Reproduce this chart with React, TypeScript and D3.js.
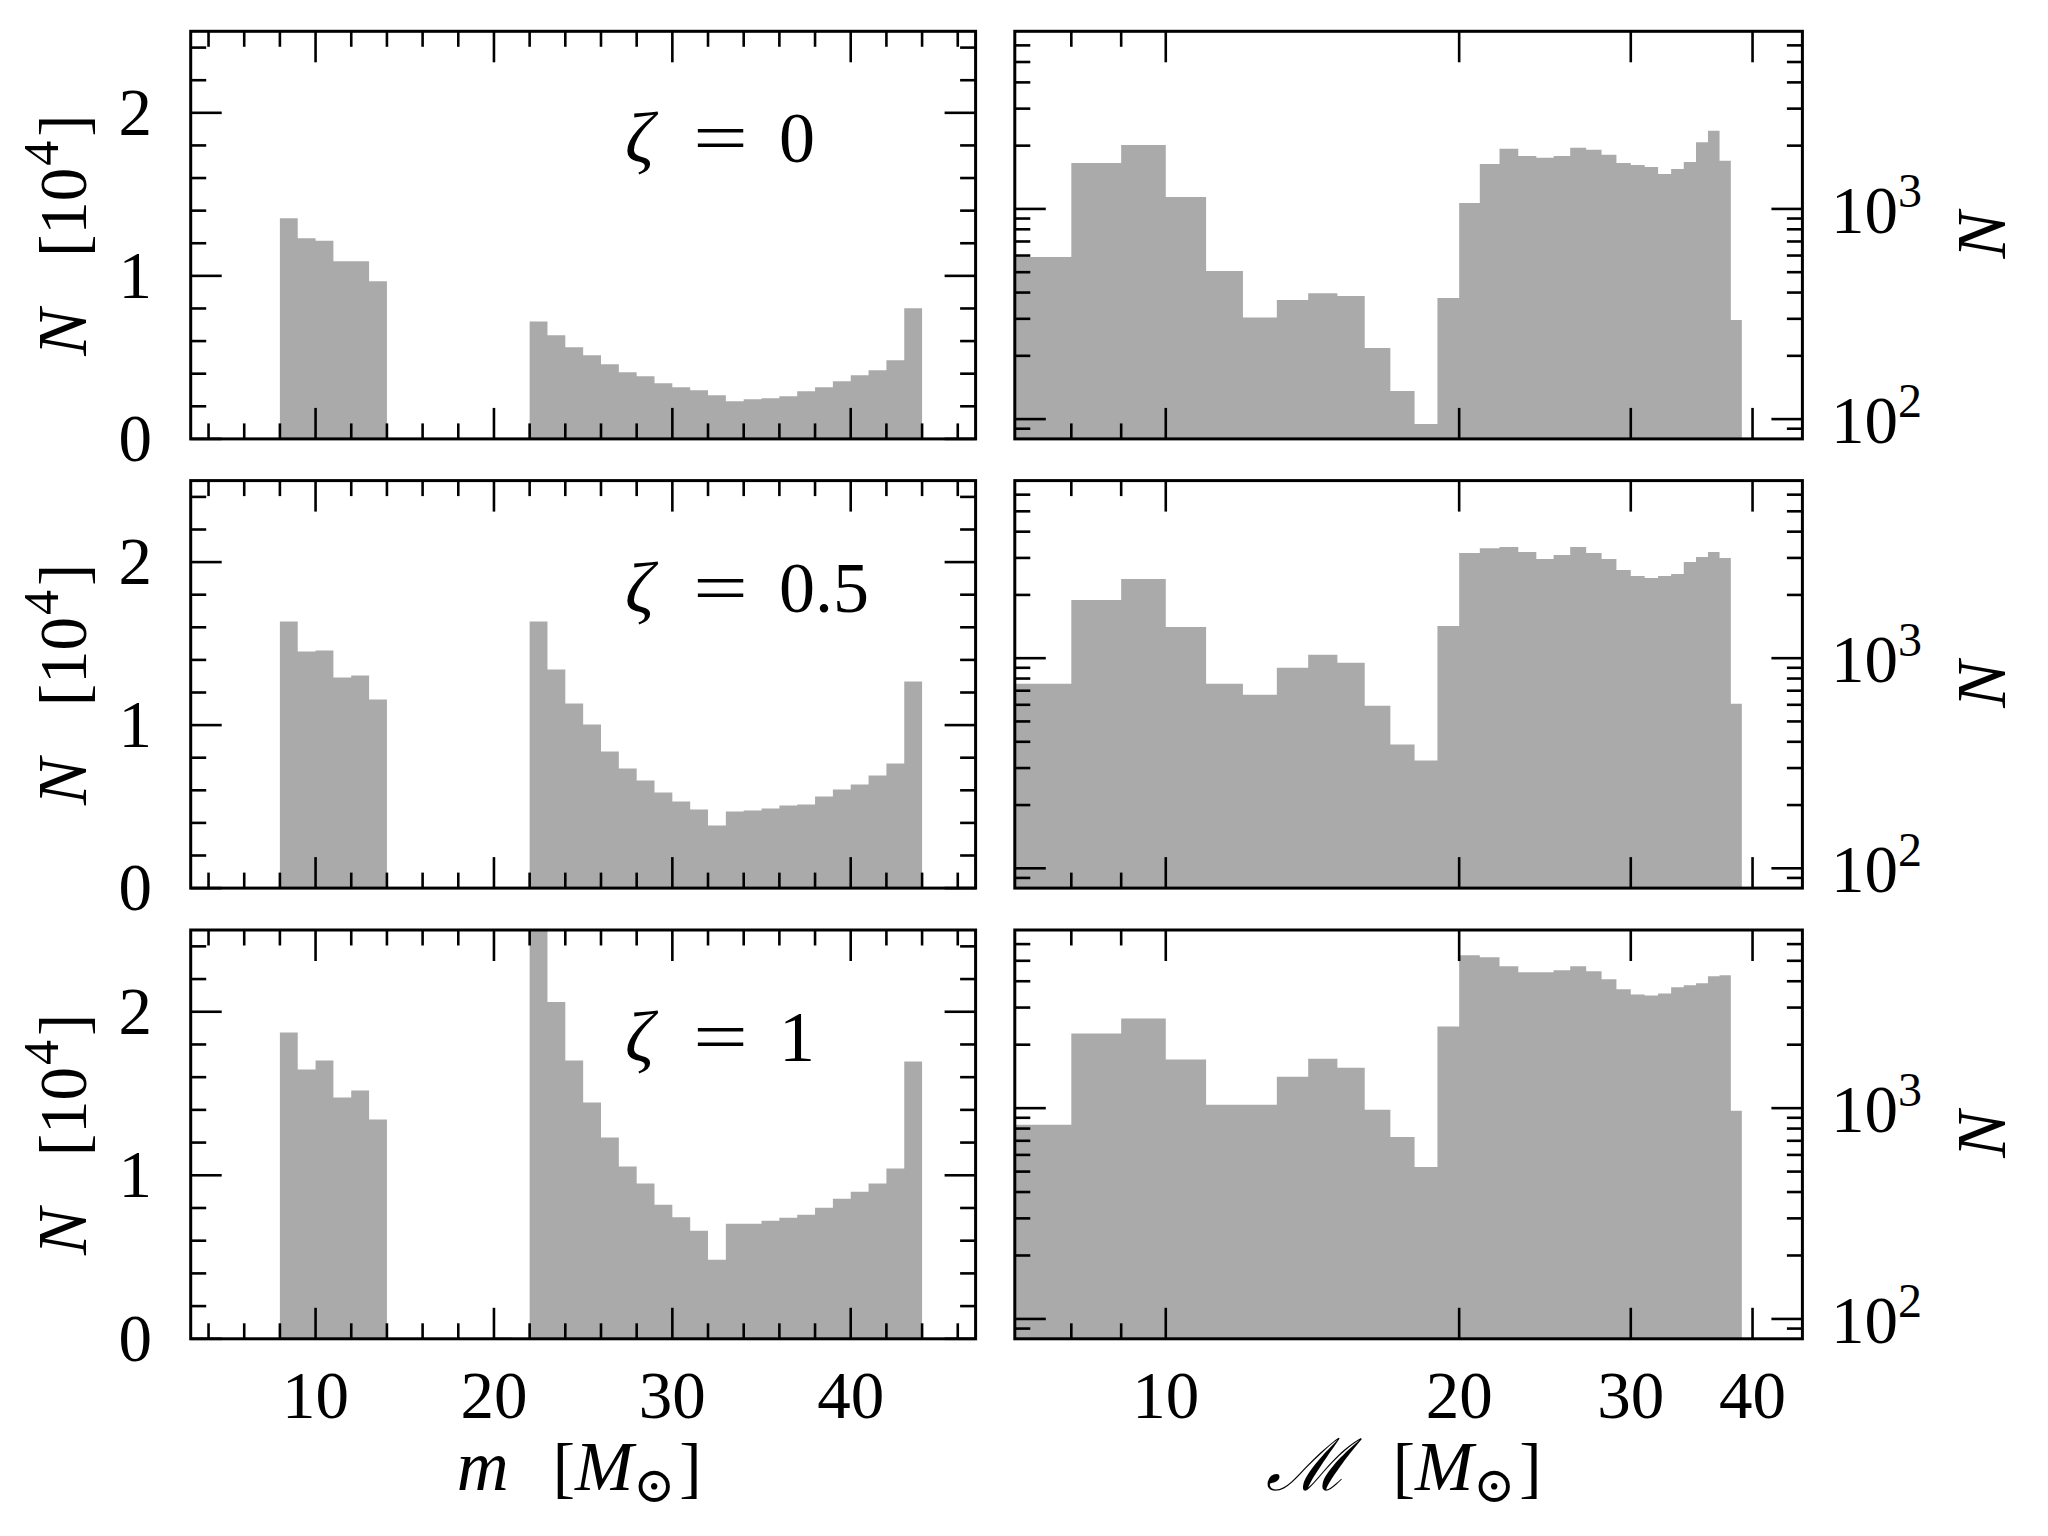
import React from 'react';
import * as d3 from 'd3';

const W = 2048;
const H = 1536;
const FONT = "Liberation Serif, Times New Roman, DejaVu Serif, serif";
const SYM = "DejaVu Serif, DejaVu Sans, serif";
const BAR = '#aaaaaa';

// ---------- data ----------
const zetaValues = ['0', '0.5', '1'];

// component mass m [M_sun], bins of width 1 (edges)
const massEdges = [4, 5, 6, 7, 8, 9, 10, 11, 12, 13, 14, 15, 16, 17, 18, 19, 20, 21, 22, 23, 24, 25, 26, 27, 28, 29, 30, 31, 32, 33, 34, 35, 36, 37, 38, 39, 40, 41, 42, 43, 44, 45];
// counts in units of 10^4
const massCountsZeta0 = [0, 0, 0, 0, 1.353, 1.231, 1.216, 1.09, 1.09, 0.967, 0, 0, 0, 0, 0, 0, 0, 0, 0.72, 0.636, 0.562, 0.513, 0.458, 0.409, 0.384, 0.341, 0.317, 0.298, 0.268, 0.231, 0.243, 0.249, 0.262, 0.292, 0.317, 0.354, 0.39, 0.421, 0.482, 0.801, 0];
const massCountsZeta05 = [0, 0, 0, 0, 1.635, 1.451, 1.457, 1.292, 1.304, 1.157, 0, 0, 0, 0, 0, 0, 0, 0, 1.635, 1.341, 1.132, 1.004, 0.838, 0.734, 0.66, 0.587, 0.531, 0.482, 0.384, 0.47, 0.476, 0.489, 0.507, 0.513, 0.562, 0.605, 0.636, 0.691, 0.765, 1.267, 0];
const massCountsZeta1 = [0.004, 0, 0, 0.004, 1.873, 1.647, 1.702, 1.476, 1.518, 1.341, 0.004, 0.004, 0.004, 0.004, 0.004, 0.004, 0.01, 0.004, 2.6, 2.059, 1.702, 1.445, 1.231, 1.053, 0.949, 0.82, 0.743, 0.661, 0.484, 0.704, 0.704, 0.722, 0.741, 0.759, 0.802, 0.857, 0.9, 0.949, 1.041, 1.696, 0];

// chirp mass [M_sun], bins of width 1 (edges)
const chirpEdges = [7, 8, 9, 10, 11, 12, 13, 14, 15, 16, 17, 18, 19, 20, 21, 22, 23, 24, 25, 26, 27, 28, 29, 30, 31, 32, 33, 34, 35, 36, 37, 38, 39];
const chirpCountsZeta0 = [590, 1656, 2017, 1141, 507, 304, 369, 397, 385, 218, 136, 94.7, 377, 1068, 1638, 1931, 1788, 1750, 1788, 1952, 1910, 1808, 1656, 1620, 1585, 1468, 1550, 1674, 2077, 2352, 1693, 296];
const chirpCountsZeta05 = [755, 1892, 2379, 1408, 755, 670, 900, 1037, 950, 594, 388, 326, 1424, 3162, 3340, 3378, 3197, 2961, 3094, 3378, 3162, 2961, 2626, 2459, 2406, 2459, 2514, 2867, 3027, 3197, 2995, 607];
const chirpCountsZeta1 = [833, 2259, 2664, 1699, 1037, 1037, 1410, 1717, 1556, 982, 730, 526, 2440, 5315, 5198, 4710, 4409, 4409, 4508, 4710, 4459, 4084, 3660, 3464, 3426, 3503, 3741, 3824, 3910, 4222, 4268, 971];

// ticks
const massTicks = [10, 20, 30, 40];
const massMinorTicks = [4, 6, 8, 12, 14, 16, 18, 22, 24, 26, 28, 32, 34, 36, 38, 42, 44, 46];
const countTicks = [0, 1, 2];
const countMinorTicks = [0.2, 0.4, 0.6, 0.8, 1.2, 1.4, 1.6, 1.8, 2.2, 2.4];
const chirpTicks = [10, 20, 30, 40];
const chirpMinorTicks = [8, 9];
const logCountTicks = [100, 1000];
const logCountMinorTicks = [90, 200, 300, 400, 500, 600, 700, 800, 900, 2000, 3000, 4000, 5000, 6000];

// ---------- layout ----------
const LX0 = 190.7, LX1 = 975.6;
const RX0 = 1014.8, RX1 = 1802.4;
const ROWS: [number, number][] = [[31.3, 438.9], [480.6, 888.1], [930, 1338.8]];
const MAJ = 31, MIN = 15.5;
const TICKW = 2.6, SPINEW = 3;
const TICKFS = 67;

function stepArea(edges: number[], counts: number[], x: any, y: any, base: number) {
  const pts = edges.map((e, i) => [e, counts[Math.min(i, counts.length - 1)]] as [number, number]);
  return d3.area<[number, number]>()
    .x(d => x(d[0]))
    .y0(base)
    .y1(d => y(d[1]))
    .curve(d3.curveStepAfter)(pts) as string;
}

function Ticks({ x, y, xMaj, xMin, yMaj, yMin, x0, x1, y0, y1 }: any) {
  const lines: any[] = [];
  const add = (k: string, a: number, b: number, c: number, d: number) =>
    lines.push(<line key={k} x1={a} y1={b} x2={c} y2={d} stroke="#000" strokeWidth={TICKW} />);
  xMaj.forEach((v: number, i: number) => { const p = x(v); add('xb' + i, p, y1, p, y1 - MAJ); add('xt' + i, p, y0, p, y0 + MAJ); });
  xMin.forEach((v: number, i: number) => { const p = x(v); if (p <= x0 || p >= x1) return; add('xbm' + i, p, y1, p, y1 - MIN); add('xtm' + i, p, y0, p, y0 + MIN); });
  yMaj.forEach((v: number, i: number) => { const p = y(v); add('yl' + i, x0, p, x0 + MAJ, p); add('yr' + i, x1, p, x1 - MAJ, p); });
  yMin.forEach((v: number, i: number) => { const p = y(v); if (p <= y0 || p >= y1) return; add('ylm' + i, x0, p, x0 + MIN, p); add('yrm' + i, x1, p, x1 - MIN, p); });
  return <g>{lines}</g>;
}

export default function App() {
  const rows = [
    { zeta: zetaValues[0], mass: massCountsZeta0, chirp: chirpCountsZeta0 },
    { zeta: zetaValues[1], mass: massCountsZeta05, chirp: chirpCountsZeta05 },
    { zeta: zetaValues[2], mass: massCountsZeta1, chirp: chirpCountsZeta1 },
  ];
  const bottomRow = ROWS[2][1];

  return (
    <div style={{ position: 'absolute', left: 0, top: 0, width: W, height: H, background: '#fff' }}>
      <svg width={W} height={H} viewBox={`0 0 ${W} ${H}`} style={{ display: 'block', fontFamily: FONT }}>
        <rect x={0} y={0} width={W} height={H} fill="#fff" />
        <defs>
          {ROWS.map(([t, b], i) => (
            <React.Fragment key={i}>
              <clipPath id={`cl${i}`}><rect x={LX0} y={t} width={LX1 - LX0} height={b - t} /></clipPath>
              <clipPath id={`cr${i}`}><rect x={RX0} y={t} width={RX1 - RX0} height={b - t} /></clipPath>
            </React.Fragment>
          ))}
        </defs>
        {rows.map((r, i) => {
          const [top, bottom] = ROWS[i];
          const xm = d3.scaleLinear().domain([3, 47]).range([LX0, LX1]);
          const ym = d3.scaleLinear().domain([0, 2.5]).range([bottom, top]);
          const xc = d3.scaleLog().domain([7, 45]).range([RX0, RX1]);
          const yc = d3.scaleLog().domain([80.5, 7000]).range([bottom, top]);
          const mid = (top + bottom) / 2;
          return (
            <g key={i}>
              {/* left: component mass */}
              <path d={stepArea(massEdges, r.mass, xm, ym, ym(0))} fill={BAR} clipPath={`url(#cl${i})`} />
              <Ticks x={xm} y={ym} xMaj={massTicks} xMin={massMinorTicks} yMaj={countTicks} yMin={countMinorTicks} x0={LX0} x1={LX1} y0={top} y1={bottom} />
              <rect x={LX0} y={top} width={LX1 - LX0} height={bottom - top} fill="none" stroke="#000" strokeWidth={SPINEW} />
              {countTicks.map(v => (
                <text key={'cl' + v} x={152} y={ym(v) + 22} fontSize={TICKFS} textAnchor="end">{v}</text>
              ))}
              <text transform={`translate(86,${mid}) rotate(-90)`} fontSize={TICKFS} textAnchor="middle">
                <tspan fontStyle="italic" fontSize={70}>N</tspan>
                <tspan dx={52}>[10</tspan>
                <tspan fontSize={50} dy={-28} dx={2}>4</tspan>
                <tspan dy={28} dx={4}>]</tspan>
              </text>
              <text y={top + 131} fontSize={72}>
                <tspan x={625} fontStyle="italic">ζ</tspan>
                <tspan x={693} textLength={55} lengthAdjust="spacingAndGlyphs">=</tspan>
                <tspan x={779}>{r.zeta}</tspan>
              </text>

              {/* right: chirp mass */}
              <path d={stepArea(chirpEdges, r.chirp, xc, yc, bottom)} fill={BAR} clipPath={`url(#cr${i})`} />
              <Ticks x={xc} y={yc} xMaj={chirpTicks} xMin={chirpMinorTicks} yMaj={logCountTicks} yMin={logCountMinorTicks} x0={RX0} x1={RX1} y0={top} y1={bottom} />
              <rect x={RX0} y={top} width={RX1 - RX0} height={bottom - top} fill="none" stroke="#000" strokeWidth={SPINEW} />
              {logCountTicks.map(v => (
                <text key={'lr' + v} x={1831} y={yc(v) + 24} fontSize={TICKFS}>
                  10<tspan fontSize={48} dy={-26}>{Math.round(Math.log10(v))}</tspan>
                </text>
              ))}
              <text transform={`translate(2005,${mid}) rotate(-90)`} fontSize={70} textAnchor="middle" fontStyle="italic">N</text>

              {i === 2 && (
                <g>
                  {massTicks.map(v => (
                    <text key={'mx' + v} x={xm(v)} y={bottomRow + 79} fontSize={TICKFS} textAnchor="middle">{v}</text>
                  ))}
                  {chirpTicks.map(v => (
                    <text key={'cx' + v} x={xc(v)} y={bottomRow + 79} fontSize={TICKFS} textAnchor="middle">{v}</text>
                  ))}
                </g>
              )}
            </g>
          );
        })}
        <text x={(LX0 + LX1) / 2 - 4} y={1490} fontSize={TICKFS} textAnchor="middle">
          <tspan fontStyle="italic" fontSize={72}>m</tspan>
          <tspan dx={44}>[</tspan>
          <tspan fontStyle="italic" fontSize={70}>M</tspan>
          <tspan fontSize={50} dy={12} style={{ fontFamily: SYM }}>⊙</tspan>
          <tspan dy={-12} dx={4}>]</tspan>
        </text>
        <text x={(RX0 + RX1) / 2 - 5} y={1490} fontSize={TICKFS} textAnchor="middle">
          <tspan fontStyle="italic" fontSize={72} fontFamily="'DejaVu Serif', serif" style={{ fontFamily: "'DejaVu Serif', serif" }}>ℳ</tspan>
          <tspan dx={44}>[</tspan>
          <tspan fontStyle="italic" fontSize={70}>M</tspan>
          <tspan fontSize={50} dy={12} style={{ fontFamily: SYM }}>⊙</tspan>
          <tspan dy={-12} dx={4}>]</tspan>
        </text>
      </svg>
    </div>
  );
}
